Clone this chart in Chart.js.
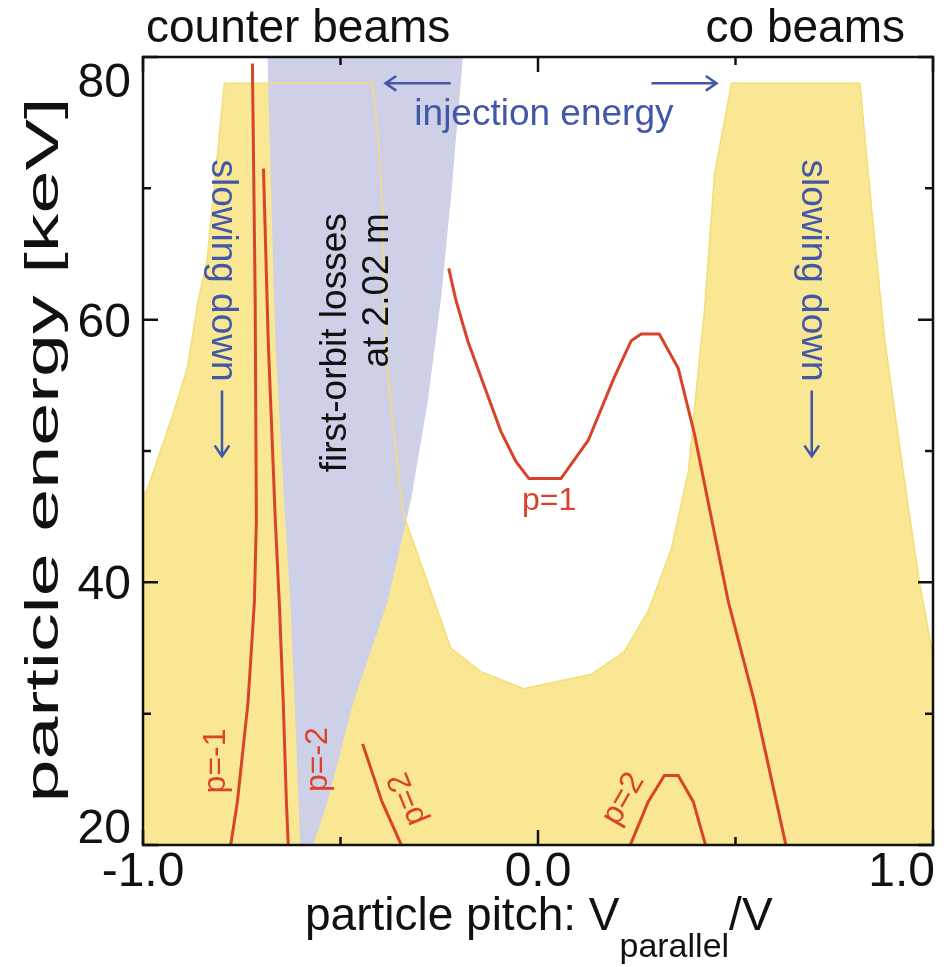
<!DOCTYPE html>
<html>
<head>
<meta charset="utf-8">
<script src="https://cdn.jsdelivr.net/npm/chart.js@4.4.0/dist/chart.umd.min.js"></script>
<style>
  body { margin: 0; background: #fff; }
</style>
</head>
<body>
<canvas id="myChart" width="947" height="967"></canvas>
<script>
// pitch V_parallel/V (x) and particle energy in keV (y)

// upper edge of the yellow (beam) region, filled down to 20 keV
var yellowX = [-1.0, -0.99, -0.924, -0.888, -0.86, -0.838, -0.794, -0.419, -0.404, -0.393, -0.388, -0.368, -0.343, -0.335,
               -0.289, -0.221, -0.145, -0.036, 0.135, 0.218, 0.279, 0.338, 0.381, 0.406, 0.421, 0.447, 0.49,
               0.815, 0.845, 0.878, 0.921, 0.964, 1.0];
var yellowE = [46.6, 47.0, 52.8, 56.3, 61.5, 64.5, 78.0, 78.0, 73.7, 68.1, 58.4, 52.3, 45.6, 44.7,
               40.8, 35.0, 33.2, 31.9, 33.0, 34.7, 37.8, 42.6, 48.5, 56.3, 60.5, 71.1, 78.0,
               78.0, 68.3, 58.4, 49.2, 40.3, 34.4];

// lower edge of the first-orbit loss region (filled up to 80 keV)
var lossX = [-0.685, -0.675, -0.665, -0.64, -0.627, -0.614, -0.602, -0.569, -0.533, -0.467, -0.381, -0.322, -0.279, -0.246, -0.221, -0.19];
var lossE = [80, 69.1, 58.4, 44.7, 38.5, 29.4, 20, 20, 23.3, 30.9, 38.5, 46.2, 53.8, 61.5, 69.1, 80];

// resonance lines
var pm1X = [-0.723, -0.716, -0.713, -0.718, -0.734, -0.761, -0.779];
var pm1E = [79.5, 61.5, 44.7, 38.5, 30.9, 23.3, 19.8];

var pm2X = [-0.695, -0.683, -0.665, -0.655, -0.645, -0.637, -0.632];
var pm2E = [71.5, 58.4, 44.7, 38.5, 30.9, 23.3, 19.8];

var p1X = [-0.226, -0.208, -0.178, -0.132, -0.094, -0.056, -0.023, 0.058, 0.127, 0.193, 0.236, 0.261, 0.307, 0.355, 0.396, 0.447, 0.482, 0.548, 0.629];
var p1E = [63.9, 61.5, 58.4, 54.6, 51.5, 49.2, 47.9, 47.9, 50.8, 55.6, 58.4, 58.9, 58.9, 56.3, 51.3, 43.7, 38.5, 30.9, 19.8];

var p2aX = [-0.444, -0.395, -0.343];
var p2aE = [27.7, 23.3, 19.8];

var p2bX = [0.231, 0.279, 0.32, 0.355, 0.393, 0.426];
var p2bE = [19.8, 23.3, 25.3, 25.3, 23.3, 19.8];

// axis ticks
var xTicks = [-1, 0, 1];
var xTickLabels = ['-1.0', '0.0', '1.0'];
var xMinor = [-0.5, 0.5];
var yTicks = [20, 40, 60, 80];
var yTickLabels = ['20', '40', '60', '80'];
var yMinor = [30, 50, 70];

var YELLOW = '#F9E794';
var LAVENDER = '#CDD0E7';
var RED = '#D9432A';
var BLUE = '#4257A7';
var FONT = '"Liberation Sans", Arial, Helvetica, sans-serif';

function pts(xs, es) {
  return xs.map(function (x, i) { return {x: x, y: es[i]}; });
}

function redLine(xs, es) {
  return {data: pts(xs, es), showLine: true, fill: false, borderColor: RED, borderWidth: 3,
          pointRadius: 0, tension: 0, order: 1};
}

function txt(ctx, s, x, y, o) {
  ctx.save();
  ctx.translate(x, y);
  ctx.rotate((o.rot || 0) * Math.PI / 180);
  ctx.font = o.font;
  ctx.fillStyle = o.color || '#111';
  ctx.textAlign = o.align || 'left';
  ctx.textBaseline = o.base || 'alphabetic';
  if (o.len) {
    var w = ctx.measureText(s).width;
    ctx.scale(o.len / w, 1);
  }
  ctx.fillText(s, 0, 0);
  ctx.restore();
}

function arrow(ctx, x1, y1, x2, y2) {
  var a = Math.atan2(y2 - y1, x2 - x1), h = 13;
  ctx.beginPath();
  ctx.moveTo(x1, y1); ctx.lineTo(x2, y2);
  ctx.moveTo(x2 - h * Math.cos(a - 0.6), y2 - h * Math.sin(a - 0.6));
  ctx.lineTo(x2, y2);
  ctx.lineTo(x2 - h * Math.cos(a + 0.6), y2 - h * Math.sin(a + 0.6));
  ctx.stroke();
}

var frame = {
  id: 'frame',
  afterDatasetsDraw: function (chart) {
    var ctx = chart.ctx, a = chart.chartArea, xs = chart.scales.x, ys = chart.scales.y;
    ctx.save();
    ctx.strokeStyle = '#111';
    ctx.lineWidth = 2.5;
    ctx.strokeRect(a.left, a.top, a.right - a.left, a.bottom - a.top);
    ctx.beginPath();
    xTicks.concat(xMinor).forEach(function (v, i) {
      var p = xs.getPixelForValue(v), l = i < xTicks.length ? 15 : 8;
      ctx.moveTo(p, a.bottom); ctx.lineTo(p, a.bottom - l);
      ctx.moveTo(p, a.top); ctx.lineTo(p, a.top + l);
    });
    yTicks.concat(yMinor).forEach(function (v, i) {
      var p = ys.getPixelForValue(v), l = i < yTicks.length ? 15 : 8;
      ctx.moveTo(a.left, p); ctx.lineTo(a.left + l, p);
      ctx.moveTo(a.right, p); ctx.lineTo(a.right - l, p);
    });
    ctx.stroke();
    ctx.restore();
  },
  afterDraw: function (chart) {
    var ctx = chart.ctx, a = chart.chartArea, xs = chart.scales.x, ys = chart.scales.y;
    function X(v) { return xs.getPixelForValue(v); }
    function Y(v) { return ys.getPixelForValue(v); }
    var tickFont = '48px ' + FONT;

    // tick labels, the end ones kept inside the frame
    yTicks.forEach(function (v, i) {
      var p = Y(v);
      p = Math.max(a.top + 23, Math.min(a.bottom - 19, p));
      txt(ctx, yTickLabels[i], a.left - 12, p + 17, {font: tickFont, align: 'right'});
    });
    xTicks.forEach(function (v, i) {
      ctx.font = tickFont;
      var w = ctx.measureText(xTickLabels[i]).width;
      var p = Math.min(X(v), chart.width - 12 - w / 2);
      txt(ctx, xTickLabels[i], p, a.bottom + 41, {font: tickFont, align: 'center'});
    });

    // axis titles
    var tf = '46px ' + FONT;
    var x0 = 305, base = 930;
    ctx.font = tf;
    var w1 = ctx.measureText('particle pitch: V').width;
    txt(ctx, 'particle pitch: V', x0, base, {font: tf});
    ctx.font = '34px ' + FONT;
    var w2 = ctx.measureText('parallel').width;
    txt(ctx, 'parallel', x0 + w1, base + 27, {font: '34px ' + FONT});
    txt(ctx, '/V', x0 + w1 + w2, base, {font: tf});
    txt(ctx, 'particle energy [keV]', 58, 450, {font: '46px ' + FONT, rot: -90, align: 'center', len: 705});

    txt(ctx, 'counter beams', 146, 42, {font: tf});
    txt(ctx, 'co beams', 905, 42, {font: tf, align: 'right'});

    // annotations
    var bf = '37px ' + FONT;
    txt(ctx, 'injection energy', X(0.015), Y(74.8), {font: bf, color: BLUE, align: 'center'});
    ctx.save();
    ctx.strokeStyle = BLUE;
    ctx.lineWidth = 2.5;
    arrow(ctx, X(-0.221), Y(78), X(-0.386), Y(78));
    arrow(ctx, X(0.287), Y(78), X(0.452), Y(78));
    arrow(ctx, X(-0.8), Y(54.6), X(-0.8), Y(49.6));
    arrow(ctx, X(0.693), Y(54.6), X(0.693), Y(49.6));
    ctx.restore();
    txt(ctx, 'slowing down', X(-0.8), Y(72.2), {font: bf, color: BLUE, rot: 90, base: 'middle'});
    txt(ctx, 'slowing down', X(0.693), Y(72.2), {font: bf, color: BLUE, rot: 90, base: 'middle'});

    txt(ctx, 'first-orbit losses', X(-0.485), Y(68.1), {font: bf, rot: -90, align: 'right'});
    txt(ctx, 'at 2.02 m', X(-0.381), Y(68.1), {font: bf, rot: -90, align: 'right'});

    var rf = '32px ' + FONT;
    txt(ctx, 'p=1', X(0.028), Y(45.5), {font: rf, color: RED, align: 'center'});
    txt(ctx, 'p=-1', X(-0.792), Y(26.4), {font: rf, color: RED, rot: -90, align: 'center'});
    txt(ctx, 'p=-2', X(-0.535), Y(26.5), {font: rf, color: RED, rot: -90, align: 'center'});
    txt(ctx, 'p=2', X(-0.33), Y(23.5), {font: rf, color: RED, rot: -112, align: 'center', base: 'middle'});
    txt(ctx, 'p=2', X(0.216), Y(23.5), {font: rf, color: RED, rot: -60, align: 'center', base: 'middle'});
  }
};

var chart = new Chart(document.getElementById('myChart').getContext('2d'), {
  type: 'scatter',
  data: {
    datasets: [
      {data: pts(yellowX, yellowE), showLine: true, fill: 'start', backgroundColor: YELLOW,
       borderColor: 'rgba(0,0,0,0)', borderWidth: 0, pointRadius: 0, tension: 0, order: 10},
      {data: pts(lossX, lossE), showLine: true, fill: 'end', backgroundColor: LAVENDER,
       borderColor: 'rgba(0,0,0,0)', borderWidth: 0, pointRadius: 0, tension: 0, order: 9},
      {data: pts(yellowX, yellowE), showLine: true, fill: false, borderColor: '#F4DE76',
       borderWidth: 1.5, pointRadius: 0, tension: 0, order: 8},
      redLine(pm1X, pm1E),
      redLine(pm2X, pm2E),
      redLine(p1X, p1E),
      redLine(p2aX, p2aE),
      redLine(p2bX, p2bE)
    ]
  },
  options: {
    responsive: false,
    animation: false,
    layout: {padding: {left: 0, right: 14, top: 57, bottom: 0}},
    plugins: {legend: {display: false}, tooltip: {enabled: false}},
    scales: {
      x: {type: 'linear', min: -1, max: 1, grid: {display: false}, border: {display: false},
          ticks: {display: false}, afterFit: function (s) { s.height = 122; }},
      y: {type: 'linear', min: 20, max: 80, grid: {display: false}, border: {display: false},
          ticks: {display: false}, afterFit: function (s) { s.width = 143; }}
    }
  },
  plugins: [frame]
});
</script>
</body>
</html>
